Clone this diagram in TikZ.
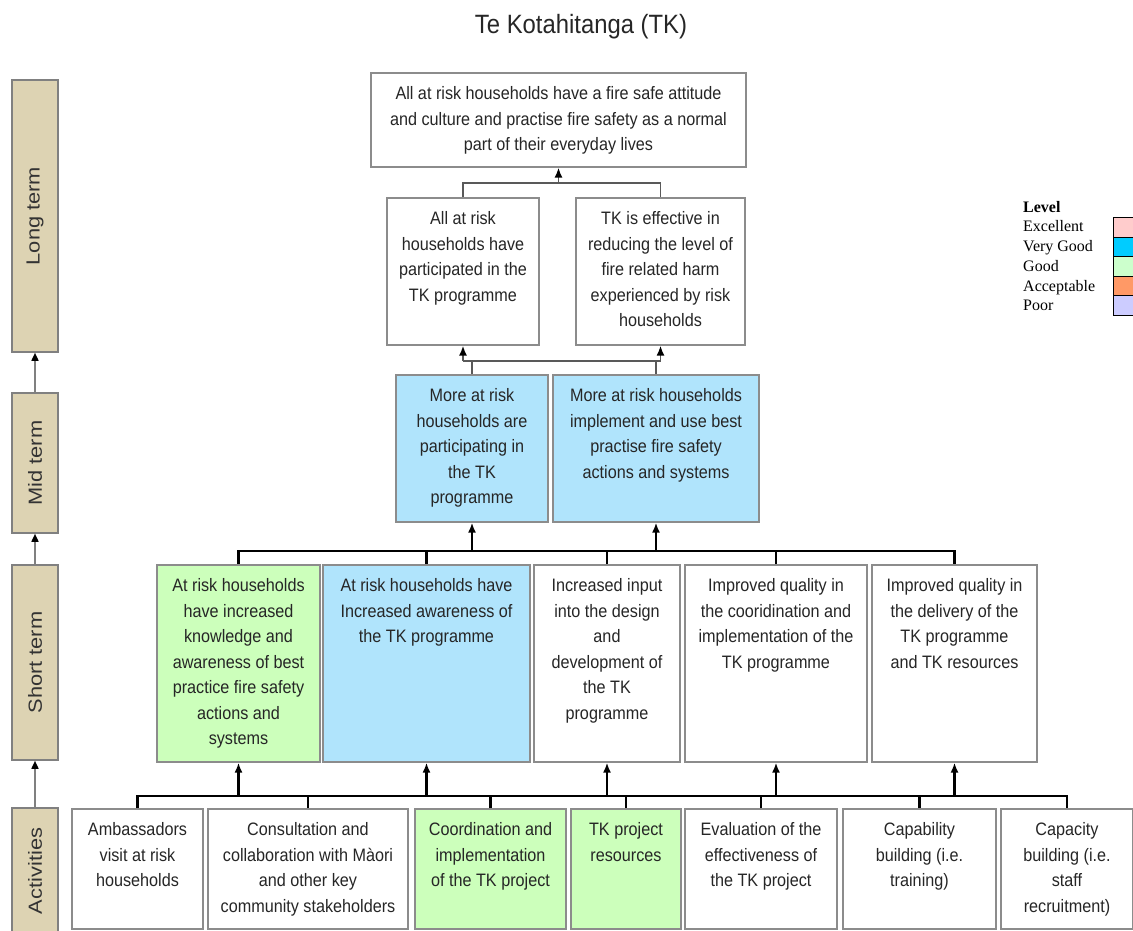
\documentclass[tikz,border=0pt]{standalone}
\usepackage{fontspec}
\setmainfont{Liberation Sans}
\newfontfamily\narrowfont[FakeStretch=0.9]{Liberation Sans}
\newfontfamily\stagefont[FakeStretch=1.15]{Liberation Sans}
\newfontfamily\legendfont{Liberation Serif}
\usetikzlibrary{arrows.meta}

\definecolor{boxgray}{RGB}{140,140,140}
\definecolor{stagetan}{RGB}{221,211,179}
\definecolor{goodgreen}{RGB}{204,255,187}
\definecolor{vgblue}{RGB}{176,228,252}
\definecolor{excellent}{RGB}{255,204,204}
\definecolor{verygoodkey}{RGB}{0,204,255}
\definecolor{goodkey}{RGB}{204,255,204}
\definecolor{acceptable}{RGB}{255,153,102}
\definecolor{poor}{RGB}{204,204,255}

% lines of a box, hung from the first line
\newcommand{\boxlines}[1]{\begin{tabular}[t]{@{}c@{}}#1\end{tabular}}

\begin{document}
\begin{tikzpicture}[x=1pt, y=-1pt,
    % Styles
    outcome/.style={draw=boxgray, line width=1.6pt, fill=white, anchor=north, text=black!85, font=\narrowfont\fontsize{18}{25.5}\selectfont, inner xsep=3pt, inner ysep=6pt, text height=21pt},
    good/.style={outcome, fill=goodgreen},
    verygood/.style={outcome, fill=vgblue},
    stage/.style={draw=gray, fill=stagetan, line width=1.6pt, minimum height=46pt, rotate=90, font=\stagefont\fontsize{19}{22}\selectfont, text=black!80},
    stagearrow/.style={-{Triangle[width=7pt,length=8pt,color=black]}, draw=gray, line width=1.6pt},
    bus/.style={line width=2.5pt, black},
    upbus/.style={line width=1.8pt, black!65},
    arrow/.style={-{Latex[width=8pt,length=10pt]}, line width=2.5pt, black},
    uparrow/.style={-{Latex[width=8pt,length=10pt,color=black]}, line width=1.8pt, black!65},
    swatch/.style={draw=black, line width=1pt, minimum width=26pt, minimum height=19.6pt, inner sep=0pt, anchor=north west},
    key/.style={anchor=base west, font=\legendfont\fontsize{16}{19.6}\selectfont, inner sep=0pt},
]
\useasboundingbox (0,0) rectangle (1133,931);

% Title
\node[font=\narrowfont\fontsize{26.5}{32}\selectfont, text=black!85] (title) at (581,27) {Te Kotahitanga (TK)};

% Stage bar
\node[stage, minimum width=272pt] (longbar) at (35,216) {Long term};
\node[stage, minimum width=140pt] (midbar) at (35,463) {Mid term};
\node[stage, minimum width=195pt] (shortbar) at (35,662.5) {Short term};
\node[stage, minimum width=126pt] (actbar) at (35,871) {Activities};
\draw[stagearrow] (actbar.east) -- (shortbar.west);
\draw[stagearrow] (shortbar.east) -- (midbar.west);
\draw[stagearrow] (midbar.east) -- (longbar.west);

% Long term outcomes
\node[outcome, minimum width=375pt, text depth=61pt] (goal) at (558.5,72) {\boxlines{All at risk households have a fire safe attitude\\and culture and practise fire safety as a normal\\part of their everyday lives}};
\node[outcome, minimum width=152pt, text depth=114pt] (lt1) at (463,197) {\boxlines{All at risk\\households have\\participated in the\\TK programme}};
\node[outcome, minimum width=169pt, text depth=114pt] (lt2) at (660.5,197) {\boxlines{TK is effective in\\reducing the level of\\fire related harm\\experienced by risk\\households}};

\coordinate (topbus) at (0,183);
\draw[upbus] (lt1.north) -- (lt1.north |- topbus) -- (lt2.north |- topbus) -- (lt2.north);
\draw[uparrow] (goal.south |- topbus) -- (goal.south);

% Mid term outcomes
\node[verygood, minimum width=152pt, text depth=114pt] (mt1) at (472,374) {\boxlines{More at risk\\households are\\participating in\\the TK\\programme}};
\node[verygood, minimum width=206pt, text depth=114pt] (mt2) at (656,374) {\boxlines{More at risk households\\implement and use best\\practise fire safety\\actions and systems}};

\coordinate (longbus) at (0,361);
\draw[upbus] (lt1.south |- longbus) -- (lt2.south |- longbus);
\draw[upbus] (mt1.north) -- (mt1.north |- longbus);
\draw[upbus] (mt2.north) -- (mt2.north |- longbus);
\draw[uparrow] (lt1.south |- longbus) -- (lt1.south);
\draw[uparrow] (lt2.south |- longbus) -- (lt2.south);

% Short term outcomes
\node[good, minimum width=163pt, text depth=164pt] (st1) at (238.5,564) {\boxlines{At risk households\\have increased\\knowledge and\\awareness of best\\practice fire safety\\actions and\\systems}};
\node[verygood, minimum width=207pt, text depth=164pt] (st2) at (426.5,564) {\boxlines{At risk households have\\Increased awareness of\\the TK programme}};
\node[outcome, minimum width=146pt, text depth=164pt] (st3) at (607,564) {\boxlines{Increased input\\into the design\\and\\development of\\the TK\\programme}};
\node[outcome, minimum width=182pt, text depth=164pt] (st4) at (776,564) {\boxlines{Improved quality in\\the cooridination and\\implementation of the\\TK programme}};
\node[outcome, minimum width=165pt, text depth=164pt] (st5) at (954.5,564) {\boxlines{Improved quality in\\the delivery of the\\TK programme\\and TK resources}};

\coordinate (midbus) at (0,551);
\draw[bus] (st1.north) |- (st5.north |- midbus) -- (st5.north);
\draw[bus] (st2.north) -- (st2.north |- midbus);
\draw[bus] (st3.north) -- (st3.north |- midbus);
\draw[bus] (st4.north) -- (st4.north |- midbus);
\draw[arrow] (mt1.south |- midbus) -- (mt1.south);
\draw[arrow] (mt2.south |- midbus) -- (mt2.south);

% Activities
\node[outcome, minimum width=131pt, text depth=87pt] (ac1) at (137.5,808) {\boxlines{Ambassadors\\visit at risk\\households}};
\node[outcome, minimum width=200pt, text depth=87pt] (ac2) at (308,808) {\boxlines{Consultation and\\collaboration with Màori\\and other key\\community stakeholders}};
\node[good, minimum width=151pt, text depth=87pt] (ac3) at (490.5,808) {\boxlines{Coordination and\\implementation\\of the TK project}};
\node[good, minimum width=110pt, text depth=87pt] (ac4) at (626,808) {\boxlines{TK project\\resources}};
\node[outcome, minimum width=152pt, text depth=87pt] (ac5) at (761,808) {\boxlines{Evaluation of the\\effectiveness of\\the TK project}};
\node[outcome, minimum width=153pt, text depth=87pt] (ac6) at (919.5,808) {\boxlines{Capability\\building (i.e.\\training)}};
\node[outcome, minimum width=132pt, text depth=87pt] (ac7) at (1067,808) {\boxlines{Capacity\\building (i.e.\\staff\\recruitment)}};

\coordinate (lowbus) at (0,796);
\draw[bus] (ac1.north) |- (ac7.north |- lowbus) -- (ac7.north);
\draw[bus] (ac2.north) -- (ac2.north |- lowbus);
\draw[bus] (ac3.north) -- (ac3.north |- lowbus);
\draw[bus] (ac4.north) -- (ac4.north |- lowbus);
\draw[bus] (ac5.north) -- (ac5.north |- lowbus);
\draw[bus] (ac6.north) -- (ac6.north |- lowbus);
\draw[arrow] (st1.south |- lowbus) -- (st1.south);
\draw[arrow] (st2.south |- lowbus) -- (st2.south);
\draw[arrow] (st3.south |- lowbus) -- (st3.south);
\draw[arrow] (st4.south |- lowbus) -- (st4.south);
\draw[arrow] (st5.south |- lowbus) -- (st5.south);

% Legend
\node[key, font=\legendfont\bfseries\fontsize{16}{19.6}\selectfont] (level) at (1023,212) {Level};
\node[key] (kexc) at (1023,231) {Excellent};
\node[key] (kvg) at (1023,251.5) {Very Good};
\node[key] (kgood) at (1023,271) {Good};
\node[key] (kacc) at (1023,291) {Acceptable};
\node[key] (kpoor) at (1023,310) {Poor};
\node[swatch, fill=excellent] (sexc) at (1113,217) {};
\node[swatch, fill=verygoodkey] (svg) at (1113,236.6) {};
\node[swatch, fill=goodkey] (sgood) at (1113,256.2) {};
\node[swatch, fill=acceptable] (sacc) at (1113,275.8) {};
\node[swatch, fill=poor] (spoor) at (1113,295.4) {};

\end{tikzpicture}
\end{document}
